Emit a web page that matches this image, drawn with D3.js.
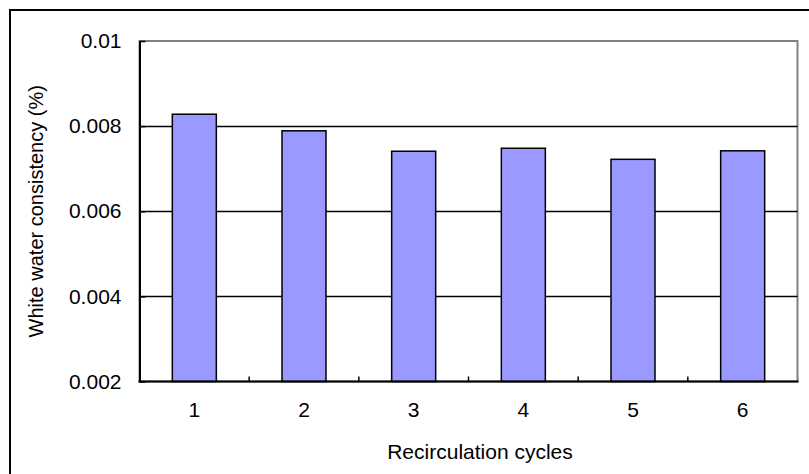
<!DOCTYPE html>
<html>
<head>
<meta charset="utf-8">
<script src="https://cdn.jsdelivr.net/npm/d3@7"></script>
<style>
  html, body { margin: 0; padding: 0; background: #fff; }
  svg { display: block; }
  text { font-family: "Liberation Sans", Arial, sans-serif; fill: #000; }
</style>
</head>
<body>
<svg id="chart" width="809" height="474"></svg>
<script>
const categories = ["1", "2", "3", "4", "5", "6"];
const values = [0.00828, 0.00789, 0.00741, 0.00748, 0.00722, 0.00742];
const yTicks = [0.002, 0.004, 0.006, 0.008, 0.01];
const xTitle = "Recirculation cycles";
const yTitle = "White water consistency (%)";

const svg = d3.select("#chart");
const W = 809, H = 474;
const plot = { left: 139.5, right: 797.5, top: 41, bottom: 381.5 };

// outer border (extends past right/bottom edges)
svg.append("rect")
  .attr("x", 10).attr("y", 10)
  .attr("width", W + 20).attr("height", H + 20)
  .attr("fill", "#fff").attr("stroke", "#000").attr("stroke-width", 2);

const x = d3.scaleBand().domain(categories)
  .range([plot.left, plot.right]).paddingInner(0.6).paddingOuter(0.3);
const xOuter = d3.scaleBand().domain(categories).range([plot.left, plot.right]);
const y = d3.scaleLinear().domain([0.002, 0.01]).range([plot.bottom, plot.top]);

// plot area border (grey top/right)
svg.append("rect")
  .attr("x", plot.left).attr("y", plot.top)
  .attr("width", plot.right - plot.left).attr("height", plot.bottom - plot.top)
  .attr("fill", "#fff").attr("stroke", "#808080").attr("stroke-width", 2);

// gridlines
svg.append("g").selectAll("line")
  .data(yTicks.filter(t => t > 0.002 && t < 0.01))
  .join("line")
  .attr("x1", plot.left).attr("x2", plot.right)
  .attr("y1", d => Math.round(y(d)) + 0.5).attr("y2", d => Math.round(y(d)) + 0.5)
  .attr("stroke", "#000").attr("stroke-width", 1.3);

// bars
svg.append("g").selectAll("rect")
  .data(values)
  .join("rect")
  .attr("x", (d, i) => xOuter(categories[i]) + (xOuter.bandwidth() - 44) / 2)
  .attr("width", 44)
  .attr("y", d => y(d))
  .attr("height", d => plot.bottom - y(d))
  .attr("fill", "#9999FF")
  .attr("stroke", "#000").attr("stroke-width", 1.5);

// y axis
const yAxis = d3.axisLeft(y).tickValues(yTicks)
  .tickFormat(d => String(+d.toFixed(3)))
  .tickSizeInner(-6).tickSizeOuter(0).tickPadding(18);
const gy = svg.append("g").attr("transform", `translate(${plot.left},0)`).call(yAxis);
gy.select(".domain").attr("stroke", "#000").attr("stroke-width", 2);
gy.selectAll(".tick line").attr("stroke", "#000").attr("stroke-width", 1.5);
gy.selectAll("text").style("font-size", "21px").attr("fill", "#000")
  .style("font-family", "'Liberation Sans', Arial, sans-serif");

// x axis
const xAxis = d3.axisBottom(x).tickSize(0).tickPadding(21);
const gx = svg.append("g").attr("transform", `translate(0,${plot.bottom})`).call(xAxis);
gx.select(".domain").remove();
gx.selectAll("text").style("font-size", "21px").attr("fill", "#000")
  .style("font-family", "'Liberation Sans', Arial, sans-serif");
svg.append("line")
  .attr("x1", plot.left - 1).attr("x2", plot.right + 1)
  .attr("y1", plot.bottom).attr("y2", plot.bottom)
  .attr("stroke", "#000").attr("stroke-width", 2);
// category separator ticks (inside)
svg.append("g").selectAll("line")
  .data(categories.slice(1))
  .join("line")
  .attr("x1", d => xOuter(d)).attr("x2", d => xOuter(d))
  .attr("y1", plot.bottom).attr("y2", plot.bottom - 5)
  .attr("stroke", "#000").attr("stroke-width", 1.5);

// titles
svg.append("text")
  .attr("x", 480).attr("y", 459)
  .attr("text-anchor", "middle").style("font-size", "21px")
  .text(xTitle);
svg.append("text")
  .attr("transform", `translate(43,${(plot.top + plot.bottom) / 2}) rotate(-90)`)
  .attr("text-anchor", "middle").style("font-size", "20px")
  .text(yTitle);
</script>
</body>
</html>
